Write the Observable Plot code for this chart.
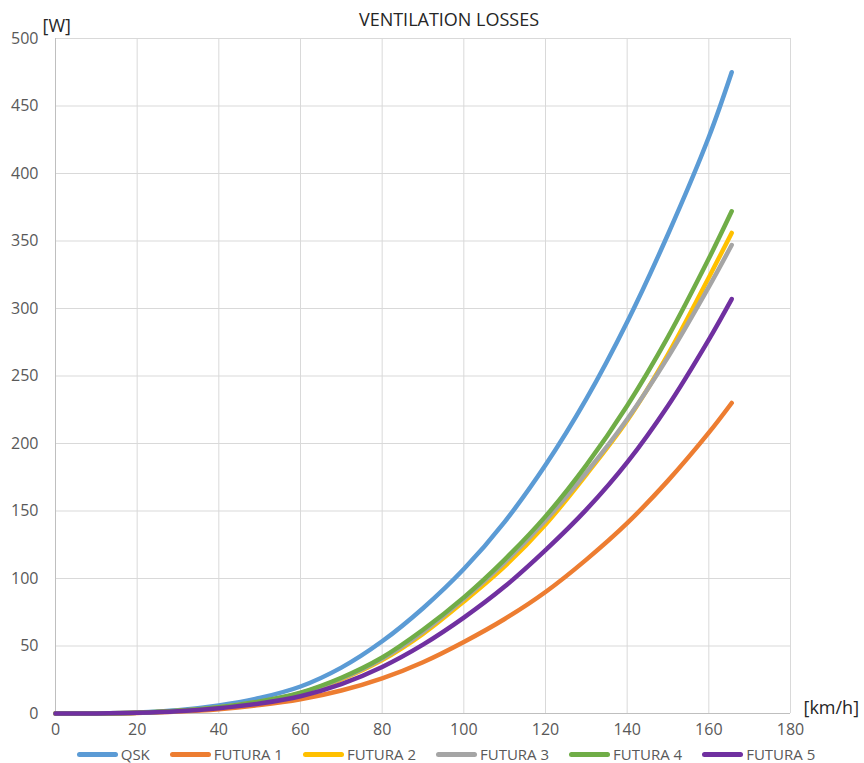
<!DOCTYPE html>
<html>
<head>
<meta charset="utf-8">
<script src="https://cdn.jsdelivr.net/npm/d3@7"></script>
<script src="https://cdn.jsdelivr.net/npm/@observablehq/plot@0.6"></script>
<style>
  body { margin: 0; background: #fff; }
  #wrap { position: relative; width: 864px; height: 763px; font-family: "Open Sans", sans-serif; }
  #title { position: absolute; top: 7px; left: 0; width: 898px; text-align: center; font-size: 18px; color: #262626; }
  #chart { position: absolute; top: 0; left: 0; }
  #legend { position: absolute; top: 744px; left: 0; width: 892px; display: flex; justify-content: center; gap: 20px; font-size: 15px; color: #595959; }
  .item { display: flex; align-items: center; gap: 3px; }
  .sw { width: 41px; height: 5px; border-radius: 3px; }
</style>
</head>
<body>
<div id="wrap">
  <div id="chart"></div>
  <div id="title">VENTILATION LOSSES</div>
  <div id="legend"></div>
</div>
<script>
// Speeds [km/h]
const speed = [0, 10, 20, 30, 40, 50, 60, 70, 80, 90, 100, 110, 120, 130, 140, 150, 160, 165.6];
// Ventilation losses [W]
const qsk     = [0, 0.1, 0.8, 2.5, 6, 11.5, 20, 34, 53.5, 78, 107, 142, 184, 233, 290, 355, 427, 475];
const futura1 = [0, 0.05, 0.4, 1.4, 3.2, 6.2, 10.5, 17, 26, 38, 53, 70, 90, 114, 141, 172.5, 208, 230];
const futura2 = [0, 0.07, 0.55, 1.9, 4.5, 8.6, 14.8, 25.3, 39.6, 59, 83, 109, 140, 177, 217, 266, 323, 356];
const futura3 = [0, 0.07, 0.55, 1.9, 4.6, 8.8, 15.1, 25.9, 40.6, 60.5, 85, 112, 143, 178.5, 218, 264, 316, 347];
const futura4 = [0, 0.08, 0.6, 2, 4.7, 9, 15.5, 26.5, 41.5, 62, 86, 114, 146, 184, 228, 279, 337, 372];
const futura5 = [0, 0.06, 0.5, 1.6, 3.9, 7.4, 12.8, 21.8, 34.5, 51, 71, 94, 121, 151, 186, 228, 277, 307];

const seriesNames = ["QSK", "FUTURA 1", "FUTURA 2", "FUTURA 3", "FUTURA 4", "FUTURA 5"];
const seriesValues = [qsk, futura1, futura2, futura3, futura4, futura5];
const seriesColors = ["#5b9bd5", "#ed7d31", "#ffc000", "#a5a5a5", "#70ad47", "#7030a0"];

const xTicks = [0, 20, 40, 60, 80, 100, 120, 140, 160, 180];
const yTicks = [0, 50, 100, 150, 200, 250, 300, 350, 400, 450, 500];

const tables = seriesNames.map((name, i) =>
  speed.map((s, j) => ({series: name, speed: s, loss: seriesValues[i][j]})));

const chart = Plot.plot({
  width: 864,
  height: 740,
  marginTop: 38,
  marginBottom: 27,
  marginLeft: 55,
  marginRight: 74,
  style: {fontSize: "16px", color: "#595959", background: "#fff", fontFamily: '"Open Sans", sans-serif'},
  x: {domain: [0, 180], ticks: xTicks},
  y: {domain: [0, 500], ticks: yTicks},
  color: {domain: seriesNames, range: seriesColors},
  marks: [
    Plot.gridX(xTicks, {stroke: "#d9d9d9", strokeOpacity: 1}),
    Plot.gridY(yTicks, {stroke: "#d9d9d9", strokeOpacity: 1}),
    Plot.ruleY([0], {stroke: "#bfbfbf"}),
    Plot.ruleX([0], {stroke: "#bfbfbf"}),
    ...tables.map((t) => Plot.line(t, {x: "speed", y: "loss", stroke: "series", strokeWidth: 4.5, strokeLinecap: "round", strokeLinejoin: "round", curve: "catmull-rom"})),
    Plot.axisX(xTicks, {tickSize: 0, tickPadding: 10, fill: "#595959", label: null}),
    Plot.axisY(yTicks, {tickSize: 0, tickPadding: 17, fill: "#595959", label: null}),
    Plot.text(["[W]"], {frameAnchor: "top-left", dx: -13, dy: -19, textAnchor: "start", fontSize: 18, fill: "#262626"}),
    Plot.text(["[km/h]"], {frameAnchor: "bottom-right", dx: 13, dy: 0, textAnchor: "start", fontSize: 18, fill: "#262626"})
  ]
});
document.getElementById("chart").appendChild(chart);

const legend = document.getElementById("legend");
seriesNames.forEach((name, i) => {
  const item = document.createElement("div");
  item.className = "item";
  const sw = document.createElement("span");
  sw.className = "sw";
  sw.style.background = seriesColors[i];
  const label = document.createElement("span");
  label.textContent = name;
  item.appendChild(sw);
  item.appendChild(label);
  legend.appendChild(item);
});
</script>
</body>
</html>
